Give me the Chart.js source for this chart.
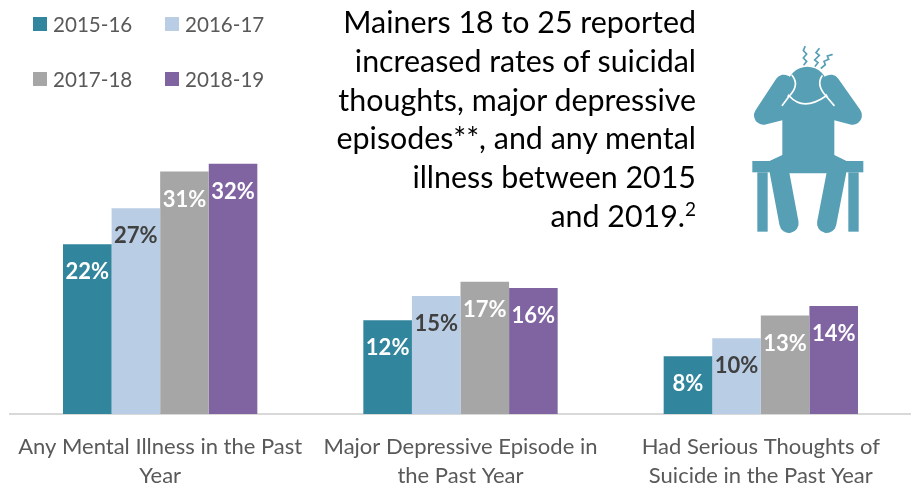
<!DOCTYPE html>
<html>
<head>
<meta charset="utf-8">
<title>Mainers 18 to 25 mental health</title>
<script src="https://cdn.jsdelivr.net/npm/chart.js@4/dist/chart.umd.min.js"></script>
<style>
  html, body { margin: 0; padding: 0; background: #fff; overflow: hidden; }
  #wrap { position: relative; width: 911px; height: 485px; font-family: Lato, sans-serif; }
  #chart { position: absolute; left: 0; top: 0; }
  #title { position: absolute; right: 215px; top: 2px; width: 400px; text-align: right; font-size: 30.4px; line-height: 38.8px; color: #000; }
  #title sup { font-size: 19px; line-height: 0; vertical-align: 11px; }
  .leg { position: absolute; font-size: 20.6px; line-height: 26px; color: #595959; white-space: nowrap; }
  .leg i { position: absolute; left: -20px; top: 6px; width: 14px; height: 14px; }
  #icon { position: absolute; left: 720px; top: 30px; }
</style>
</head>
<body>
<div id="wrap">
  <canvas id="chart" width="911" height="485"></canvas>
  <div id="legend"></div>
  <div id="title">Mainers 18 to 25 reported<br>increased rates of suicidal<br>thoughts, major depressive<br>episodes**, and any mental<br>illness between 2015<br>and 2019.<sup>2</sup></div>
  <svg id="icon" width="180" height="220" viewBox="0 0 540 660">
    <g fill="#579fb5" stroke="none">
      <rect x="97" y="393" width="333" height="34"/>
      <rect x="112" y="427" width="31" height="178"/>
      <rect x="385" y="427" width="31" height="178"/>
      <rect x="187" y="200" width="156" height="190"/>
      <path d="M150 392 L187 375 L343 375 L378 392 L378 430 L150 430 Z"/>
      <circle cx="262" cy="170" r="60"/>
    </g>
    <g fill="none" stroke="#579fb5" stroke-linecap="round" stroke-linejoin="round">
      <path d="M192 162 L130 256 L195 240" stroke-width="56"/>
      <path d="M332 162 L398 256 L335 240" stroke-width="56"/>
      <path d="M178 425 L207 580" stroke-width="58"/>
      <path d="M350 425 L320 580" stroke-width="58"/>
    </g>
    <g fill="none" stroke="#fff" stroke-width="5" stroke-linecap="round">
      <path d="M216 136 Q240 165 208 198 Q250 245 318 198 Q288 165 306 138"/>
      <path d="M208 198 L187 226"/>
      <path d="M318 198 L342 226"/>
    </g>
    <g fill="none" stroke="#579fb5" stroke-width="5" stroke-linecap="round">
      <path d="M255 50 L250 62 L260 72 L250 84 L260 94 L252 104"/>
      <path d="M297 56 L288 68 L298 76 L284 90 L294 98 L286 108"/>
      <path d="M336 74 L322 78 L326 88 L312 94 L316 104 L304 114"/>
    </g>
  </svg>
</div>
<script>
// ── Data ─────────────────────────────────────────────────────────────────────

const CATEGORIES = [
  ['Any Mental Illness in the Past', 'Year'],
  ['Major Depressive Episode in', 'the Past Year'],
  ['Had Serious Thoughts of', 'Suicide in the Past Year'],
];
const YEARS = ['2015-16', '2016-17', '2017-18', '2018-19'];

const VALUES_2015 = [21.7, 12.0, 7.4];
const VALUES_2016 = [26.3, 15.1, 9.7];
const VALUES_2017 = [31.0, 16.9, 12.6];
const VALUES_2018 = [32.0, 16.1, 13.8];

const LABELS_2015 = ['22%', '12%', '8%'];
const LABELS_2016 = ['27%', '15%', '10%'];
const LABELS_2017 = ['31%', '17%', '13%'];
const LABELS_2018 = ['32%', '16%', '14%'];

const C_TEAL   = '#31859c';
const C_BLUE   = '#b9cde5';
const C_GREY   = '#a6a6a6';
const C_PURPLE = '#8064a2';
const C_TEXT   = '#595959';
const C_AXIS   = '#d9d9d9';

const SERIES = [
  { data: VALUES_2015, text: LABELS_2015, color: C_TEAL,   ink: '#fff' },
  { data: VALUES_2016, text: LABELS_2016, color: C_BLUE,   ink: '#404040' },
  { data: VALUES_2017, text: LABELS_2017, color: C_GREY,   ink: '#fff' },
  { data: VALUES_2018, text: LABELS_2018, color: C_PURPLE, ink: '#fff' },
];

// ── Legend ───────────────────────────────────────────────────────────────────

const LEGEND_SPOTS = [[53, 11], [185, 11], [53, 66], [185, 66]];

YEARS.forEach((y, i) => {
  const el = document.createElement('div');
  el.className = 'leg';
  el.style.left = LEGEND_SPOTS[i][0] + 'px';
  el.style.top = LEGEND_SPOTS[i][1] + 'px';
  el.innerHTML = `<i style="background:${SERIES[i].color}"></i>${y}`;
  document.getElementById('legend').appendChild(el);
});

// ── Bar labels ───────────────────────────────────────────────────────────────

const barLabels = {
  id: 'barLabels',
  afterDatasetsDraw(chart) {
    const ctx = chart.ctx;
    ctx.save();
    ctx.font = 'bold 22px Lato';
    ctx.textAlign = 'center';
    ctx.textBaseline = 'middle';
    chart.data.datasets.forEach((ds, i) => {
      ctx.fillStyle = SERIES[i].ink;
      chart.getDatasetMeta(i).data.forEach((bar, j) => {
        ctx.fillText(SERIES[i].text[j], bar.x, bar.y + 28);
      });
    });
    ctx.restore();
  }
};

// ── Chart ────────────────────────────────────────────────────────────────────

new Chart(document.getElementById('chart'), {
  type: 'bar',
  data: {
    labels: CATEGORIES,
    datasets: SERIES.map((s, i) => ({
      label: YEARS[i],
      data: s.data,
      backgroundColor: s.color,
      categoryPercentage: 0.647,
      barPercentage: 1,
    }))
  },
  options: {
    responsive: false,
    animation: false,
    layout: { padding: { left: 10, right: 0, top: 23, bottom: 0 } },
    plugins: { legend: { display: false }, tooltip: { enabled: false } },
    scales: {
      y: { display: false, min: 0, max: 50 },
      x: {
        afterFit: scale => { scale.height = 71; scale.paddingLeft = 0; scale.paddingRight = 0; },
        grid: { display: false, drawTicks: false },
        border: { color: C_AXIS, width: 2 },
        ticks: {
          color: C_TEXT,
          padding: 18,
          autoSkip: false,
          maxRotation: 0,
          font: { family: 'Lato', size: 22, lineHeight: 1.32 },
        },
      }
    }
  },
  plugins: [barLabels]
});
</script>
</body>
</html>
